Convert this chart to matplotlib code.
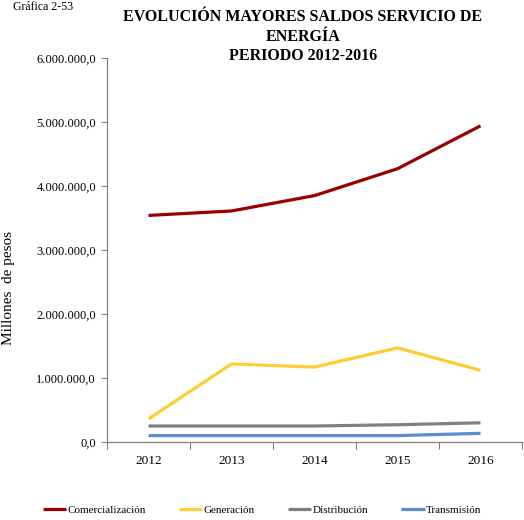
import matplotlib
matplotlib.use('Agg')
import matplotlib.pyplot as plt
from matplotlib.ticker import FuncFormatter, FixedLocator

plt.rcParams['font.family'] = ['Liberation Serif', 'DejaVu Serif']

# Saldos por actividad, millones de pesos
years = ['2012', '2013', '2014', '2015', '2016']
comercializacion = [3540000, 3610000, 3850000, 4270000, 4940000]
generacion = [360000, 1220000, 1170000, 1470000, 1120000]
distribucion = [250000, 250000, 250000, 270000, 300000]
transmision = [100000, 100000, 100000, 100000, 135000]

series = [
    ('Comercialización', comercializacion, '#990000'),
    ('Generación', generacion, '#FFCC33'),
    ('Distribución', distribucion, '#808080'),
    ('Transmisión', transmision, '#5B8BD0'),
]


def miles(v, pos):
    # formato 6.000.000,0
    s = f'{v:,.1f}'
    return s.replace(',', 'X').replace('.', ',').replace('X', '.')


fig = plt.figure(figsize=(5.24, 5.20), dpi=100)
ax = fig.add_axes([107 / 524, 1 - 442 / 520, 415 / 524, 384 / 520])

x = range(len(years))
for name, vals, color in series:
    ax.plot(x, vals, color=color, linewidth=2.3, label=name, solid_capstyle='butt')

ax.set_xlim(-0.5, len(years) - 0.5)
ax.set_ylim(0, 6000000)
ax.set_yticks(range(0, 6000001, 1000000))
ax.yaxis.set_major_formatter(FuncFormatter(miles))

# marcas de categoria en los bordes, etiquetas al centro
ax.xaxis.set_major_locator(FixedLocator([i - 0.5 for i in range(len(years) + 1)]))
ax.xaxis.set_minor_locator(FixedLocator(list(x)))
ax.set_xticklabels([''] * (len(years) + 1))
ax.set_xticklabels(years, minor=True)
ax.tick_params(axis='x', which='major', length=5, color='#808080', direction='out')
ax.tick_params(axis='x', which='minor', length=0, labelsize=9.5, pad=9)
ax.tick_params(axis='y', length=4, color='#808080', labelsize=9, pad=4)

for side in ['top', 'right']:
    ax.spines[side].set_visible(False)
for side in ['left', 'bottom']:
    ax.spines[side].set_color('#808080')
    ax.spines[side].set_linewidth(0.9)

ax.set_ylabel('Millones  de pesos', fontsize=11)
ax.yaxis.set_label_coords(-0.222, 0.40)

fig.text(303 / 524, 1 - 9 / 520, 'EVOLUCIÓN MAYORES SALDOS SERVICIO DE\nENERGÍA\nPERIODO 2012-2016',
         ha='center', va='top', fontsize=11.5, fontweight='bold', linespacing=1.3)
fig.text(13 / 524, 1 - 1 / 520, 'Gráfica 2-53', ha='left', va='top', fontsize=8.6)

fig.legend(loc='center', bbox_to_anchor=(262 / 524, 1 - 510 / 520), ncol=4, frameon=False,
           fontsize=8, handlelength=2.1, handletextpad=0.1, columnspacing=3.0)

fig.savefig('out.png', dpi=100)
